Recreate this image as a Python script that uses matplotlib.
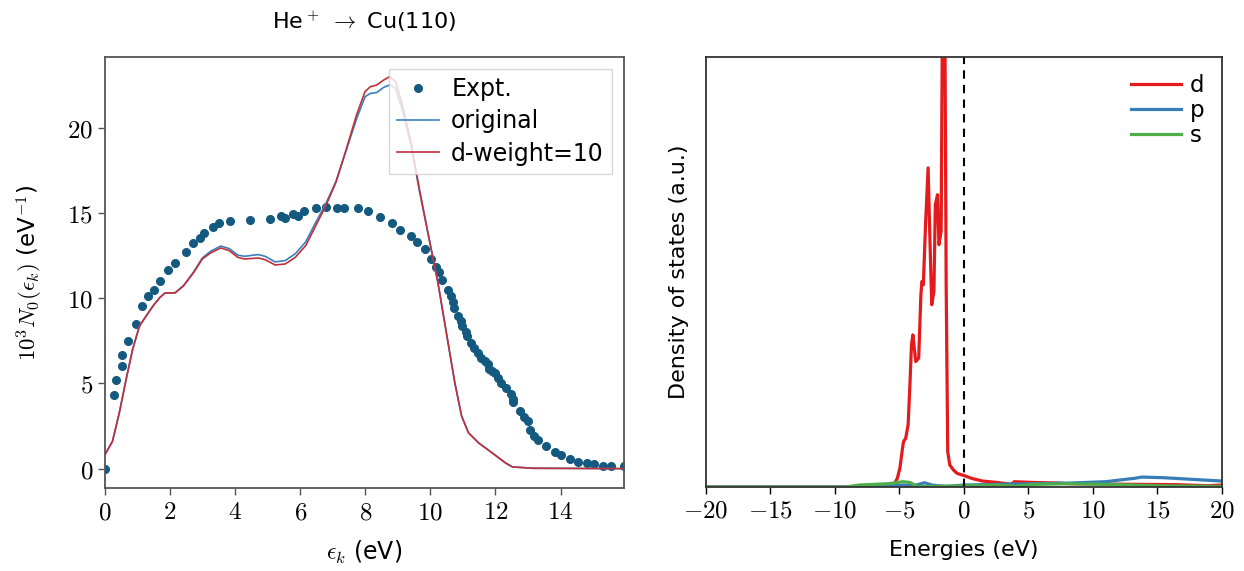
import matplotlib

matplotlib.use("Agg")
import matplotlib.pyplot as plt
from matplotlib.ticker import FuncFormatter

plt.rcParams["mathtext.fontset"] = "cm"
plt.rcParams["font.family"] = ["DejaVu Sans"]

# --- left panel: experiment vs. calculation ---
expt_x = [0.0, 0.28, 0.35, 0.51, 0.51, 0.71, 0.94, 1.13, 1.31, 1.5, 1.69, 1.94,
          2.16, 2.48, 2.72, 2.92, 3.05, 3.32, 3.51, 3.84, 4.46, 5.06, 5.41, 5.53,
          5.77, 5.94, 6.11, 6.49, 6.78, 7.14, 7.33, 7.79, 8.08, 8.45, 8.83, 9.07,
          9.41, 9.6, 9.83, 10.02, 10.17, 10.27, 10.36, 10.54, 10.64, 10.69, 10.73,
          10.86, 10.94, 10.98, 11.09, 11.14, 11.26, 11.35, 11.45, 11.56, 11.67,
          11.77, 11.81, 11.9, 12.0, 12.07, 12.17, 12.33, 12.47, 12.53, 12.53, 12.76,
          12.89, 13.0, 13.05, 13.18, 13.32, 13.54, 13.82, 14.01, 14.28, 14.54, 14.8,
          15.04, 15.31, 15.54, 15.95]
expt_y = [0.0, 4.31, 5.2, 6.04, 6.69, 7.47, 8.47, 9.53, 10.14, 10.45, 11.0, 11.65,
          12.04, 12.73, 13.22, 13.51, 13.82, 14.18, 14.41, 14.53, 14.59, 14.63, 14.8,
          14.71, 14.9, 14.82, 15.08, 15.27, 15.33, 15.27, 15.27, 15.27, 15.12, 14.75,
          14.41, 14.02, 13.63, 13.31, 12.86, 12.27, 11.8, 11.55, 11.04, 10.49, 10.1,
          9.75, 9.43, 8.96, 8.67, 8.37, 8.02, 7.76, 7.39, 7.1, 6.75, 6.51, 6.31, 6.12,
          5.86, 5.73, 5.59, 5.31, 5.04, 4.75, 4.35, 4.06, 3.9, 3.39, 3.04, 2.78, 2.29,
          1.94, 1.67, 1.35, 1.0, 0.8, 0.57, 0.39, 0.33, 0.25, 0.18, 0.18, 0.16]

calc_x = [0.0, 0.23, 0.44, 0.65, 0.85, 1.06, 1.27, 1.48, 1.69, 1.84, 2.16, 2.42,
          2.73, 2.99, 3.25, 3.56, 3.82, 4.08, 4.29, 4.71, 4.92, 5.23, 5.54, 5.85,
          6.17, 6.48, 6.79, 7.1, 7.42, 7.73, 7.99, 8.15, 8.35, 8.56, 8.75, 8.93,
          9.14, 9.4, 9.66, 9.92, 10.23, 10.49, 10.75, 10.96, 11.17, 11.48, 11.9,
          12.31, 12.52, 13.15, 15.95]
orig_y = [0.82, 1.6, 3.27, 5.24, 7.0, 8.37, 8.96, 9.55, 10.04, 10.29, 10.31, 10.75,
          11.55, 12.35, 12.75, 13.05, 12.9, 12.52, 12.45, 12.55, 12.45, 12.12, 12.2,
          12.6, 13.3, 14.45, 15.55, 16.85, 18.7, 20.5, 21.8, 22.0, 22.05, 22.35, 22.5,
          22.3, 21.0, 19.0, 16.3, 13.86, 10.92, 7.98, 5.04, 3.08, 2.1, 1.51, 0.92,
          0.33, 0.1, 0.02, 0.0]
dw10_y = [0.82, 1.6, 3.27, 5.24, 7.0, 8.37, 8.96, 9.55, 10.04, 10.29, 10.31, 10.73,
          11.51, 12.29, 12.65, 12.94, 12.78, 12.39, 12.29, 12.35, 12.25, 11.94, 12.0,
          12.39, 13.08, 14.25, 15.43, 16.8, 18.76, 20.73, 22.1, 22.39, 22.49, 22.78,
          22.98, 22.69, 21.31, 19.16, 16.41, 13.86, 10.92, 7.98, 5.04, 3.08, 2.1,
          1.51, 0.92, 0.33, 0.1, 0.02, 0.0]

# --- right panel: projected density of states ---
d_x = [-20.0, -5.87, -5.45, -5.17, -4.97, -4.8, -4.69, -4.52, -4.33, -4.19, -4.07,
       -3.96, -3.74, -3.51, -3.34, -3.26, -3.15, -2.98, -2.78, -2.67, -2.5, -2.33,
       -2.22, -2.05, -1.94, -1.77, -1.66, -1.49, -1.38, -1.26, -1.1, -0.81, -0.53,
       0.03, 0.59, 1.43, 2.56, 3.68, 3.9, 5.37, 7.33, 8.17, 11.0, 13.8, 16.6,
       18.85, 20.0]
d_y = [0.0, 0.0, 0.019, 0.081, 0.174, 0.329, 0.422, 0.453, 0.578, 0.95, 1.323,
       1.416, 1.168, 1.199, 1.789, 1.913, 1.882, 2.441, 2.969, 2.441, 1.696, 1.82,
       2.627, 2.72, 2.255, 2.379, 4.6, 4.6, 1.882, 0.329, 0.205, 0.158, 0.127,
       0.106, 0.081, 0.056, 0.043, 0.025, 0.05, 0.043, 0.037, 0.031, 0.028, 0.025,
       0.022, 0.012, 0.019]
p_x = [-20.0, -9.24, -5.87, -4.75, -3.9, -3.06, -2.5, -1.38, 0.03, 2.56, 5.37,
       8.17, 10.98, 13.2, 13.8, 15.5, 17.2, 20.0]
p_y = [0.0, 0.0, 0.012, 0.019, 0.012, 0.04, 0.019, 0.006, 0.019, 0.025, 0.031,
       0.037, 0.05, 0.081, 0.093, 0.087, 0.075, 0.056]
s_x = [-20.0, -9.24, -8.1, -5.87, -4.75, -4.19, -3.62, -2.5, 0.03, 2.56, 3.96,
       5.37, 8.17, 11.0, 15.2, 20.0]
s_y = [0.0, 0.0, 0.019, 0.031, 0.05, 0.043, 0.006, 0.006, 0.012, 0.019, 0.009,
       0.025, 0.031, 0.025, 0.012, 0.006]

math_ticks = FuncFormatter(lambda v, pos: f"${v:g}$")

fig = plt.figure(figsize=(12.44, 5.71), dpi=100)
ax = fig.add_axes([0.0844, 0.145, 0.4172, 0.755])
ax2 = fig.add_axes([0.5675, 0.147, 0.4148, 0.753])

ax.plot(expt_x, expt_y, "o", ms=5.5, color="#14597f", label="Expt.")
ax.plot(calc_x, orig_y, color="#3a7fc0", lw=1.2, label="original")
ax.plot(calc_x, dw10_y, color="#c0303a", lw=1.2, label="d-weight=10")
ax.set_xlim(0, 15.95)
ax.set_xticks(range(0, 16, 2))
ax.set_yticks(range(0, 21, 5))
ax.xaxis.set_major_formatter(math_ticks)
ax.yaxis.set_major_formatter(math_ticks)
ax.tick_params(labelsize=18, length=5, width=1.0, color="#555555")
for sp in ax.spines.values():
    sp.set_color("#555555")
    sp.set_linewidth(1.3)
ax.set_xlabel(r"$\epsilon_k$ (eV)", fontsize=17, labelpad=11)
ax.set_ylabel(r"$10^3 N_0(\epsilon_k)$ (eV$^{\mathsf{-1}}$)", fontsize=16.5,
              labelpad=16)
ax.set_title(r"He$^+$ $\rightarrow$ Cu(110)", fontsize=16, pad=20)
leg = ax.legend(loc="upper right", fontsize=17, fancybox=False, framealpha=0.8,
                handlelength=1.8, handletextpad=0.5, borderpad=0.35,
                labelspacing=0.35, borderaxespad=0.5)
leg.get_frame().set_edgecolor("#cccccc")

ax2.plot(d_x, d_y, color="#e41a1c", lw=2.3, label="d")
ax2.plot(p_x, p_y, color="#377eb8", lw=2.3, label="p")
ax2.plot(s_x, s_y, color="#4daf4a", lw=2.3, label="s")
ax2.axvline(0, color="black", ls="--", lw=1.5, dashes=(4, 3))
ax2.set_xlim(-20, 20)
ax2.set_ylim(0, 4.0)
ax2.set_xticks(range(-20, 21, 5))
ax2.xaxis.set_major_formatter(math_ticks)
ax2.set_yticks([])
ax2.tick_params(labelsize=18, length=5, width=1.0)
for sp in ax2.spines.values():
    sp.set_color("#333333")
    sp.set_linewidth(1.3)
ax2.set_xlabel("Energies (eV)", fontsize=16, labelpad=12)
ax2.set_ylabel("Density of states (a.u.)", fontsize=16, labelpad=12)
ax2.legend(loc="upper right", fontsize=16.5, frameon=False, handlelength=2.2,
           handletextpad=0.4, labelspacing=0.08, borderaxespad=0.35)

fig.savefig("out.png", dpi=100)
plt.close(fig)
